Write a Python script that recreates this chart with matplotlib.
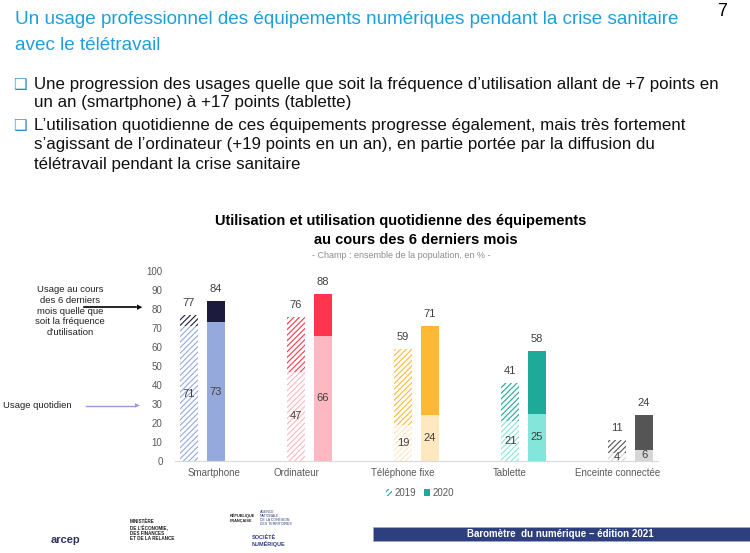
import matplotlib.pyplot as plt
from matplotlib.patches import Patch, Rectangle
from matplotlib.transforms import ScaledTranslation

categories = ['Smartphone', 'Ordinateur', 'Téléphone fixe', 'Tablette', 'Enceinte connectée']
total_2019 = [77, 76, 59, 41, 11]
total_2020 = [84, 88, 71, 58, 24]
daily_2019 = [71, 47, 19, 21, 4]
daily_2020 = [73, 66, 24, 25, 6]

light_cols = ['#95A9DC', '#FFB7C2', '#FFE7BF', '#84E6DA', '#D6D6D6']
dark_cols = ['#1C1B3D', '#FF3550', '#FFB833', '#1EAA98', '#555555']

plt.rcParams['font.family'] = ['Liberation Sans', 'DejaVu Sans']
plt.rcParams['hatch.linewidth'] = 0.8

fig = plt.figure(figsize=(7.5, 5.53), dpi=100)
W, H = 750, 553

def ftext(x, y, s, **kw):
    fig.text(x / W, 1 - y / H, s, **kw)

# header
ftext(15, 19, 'Un usage professionnel des équipements numériques pendant la crise sanitaire',
      fontsize=13.6, color='#1E9FDB', va='center')
ftext(15, 45, 'avec le télétravail', fontsize=13.6, color='#1E9FDB', va='center')
ftext(722, 12, '7', fontsize=13, va='center', ha='center')

bullets = [(84, 'Une progression des usages quelle que soit la fréquence d’utilisation allant de +7 points en', True),
           (103, 'un an (smartphone) à +17 points (tablette)', False),
           (125, 'L’utilisation quotidienne de ces équipements progresse également, mais très fortement', True),
           (145, 's’agissant de l’ordinateur (+19 points en un an), en partie portée par la diffusion du', False),
           (165, 'télétravail pendant la crise sanitaire', False)]
for y, s, bullet in bullets:
    ftext(34, y, s, fontsize=12.2, va='center', color='#111111')
    if bullet:
        ftext(13, y, '❑', fontsize=11, va='center', color='#2E8FD0', family='DejaVu Sans')

# chart title
ftext(401, 221, 'Utilisation et utilisation quotidienne des équipements', fontsize=10.5,
      fontweight='bold', ha='center', va='center')
ftext(416, 240, 'au cours des 6 derniers mois', fontsize=10.5, fontweight='bold', ha='center', va='center')
ftext(401, 255, '- Champ : ensemble de la population, en % -', fontsize=6.5, color='#8C8C8C',
      ha='center', va='center')

ax = fig.add_axes([175 / W, 1 - 461 / H, 483 / W, 190 / H])
x = list(range(len(categories)))
x20 = [i + 0.25 for i in x]
bw = 0.17

for i in x:
    ax.bar(x[i], daily_2019[i], bw, facecolor='white', edgecolor=light_cols[i], hatch='//////', lw=0)
    ax.bar(x[i], total_2019[i] - daily_2019[i], bw, bottom=daily_2019[i], facecolor='white',
           edgecolor=dark_cols[i], hatch='//////', lw=0)
    ax.bar(x20[i], daily_2020[i], bw, color=light_cols[i], lw=0)
    ax.bar(x20[i], total_2020[i] - daily_2020[i], bw, bottom=daily_2020[i], color=dark_cols[i], lw=0)
    for xx, tot, d in [(x[i], total_2019[i], daily_2019[i]), (x20[i], total_2020[i], daily_2020[i])]:
        ax.annotate(str(tot), (xx, tot), xytext=(0, 5), textcoords='offset points', ha='center',
                    va='bottom', fontsize=8, color='#404040')
        ax.text(xx, d / 2, str(d), ha='center', va='center', fontsize=8, color='#404040')

ax.set_xlim(-0.13, 4.38)
ax.set_ylim(0, 100)
ax.set_yticks(range(0, 101, 10))
ax.set_xticks(x)
ax.set_xticklabels(categories)
ax.tick_params(length=0, labelsize=7, labelcolor='#595959')
ax.tick_params(axis='y', pad=9)
ax.tick_params(axis='x', pad=5)
# first category label sits a bit to the right in the original
lab0 = ax.get_xticklabels()[0]
lab0.set_transform(lab0.get_transform() + ScaledTranslation(0.25, 0, fig.dpi_scale_trans))
for s in ['top', 'right', 'left']:
    ax.spines[s].set_visible(False)
ax.spines['bottom'].set_color('#D9D9D9')

# side annotations
ftext(70, 311, 'Usage au cours\ndes 6 derniers\nmois quelle que\nsoit la fréquence\nd’utilisation',
      fontsize=6.8, ha='center', va='center', linespacing=1.25, color='#222222')
fig.add_artist(plt.Line2D([84 / W, 136 / W], [1 - 307 / H] * 2, color='black', lw=1.2))
ftext(140, 307, '▶', fontsize=5, color='black', ha='center', va='center', family='DejaVu Sans')
ftext(3, 406, 'Usage quotidien', fontsize=6.8, va='center', color='#222222')
fig.add_artist(plt.Line2D([86 / W, 134 / W], [1 - 406 / H] * 2, color='#9A9AE0', lw=1.0))
ftext(137, 406, '▶', fontsize=4.5, color='#9A9AE0', ha='center', va='center', family='DejaVu Sans')

handles = [Patch(facecolor='white', edgecolor=dark_cols[3], hatch='//////', lw=0, label='2019'),
           Patch(facecolor=dark_cols[3], lw=0, label='2020')]
fig.legend(handles=handles, loc='center', bbox_to_anchor=(420 / W, 1 - 493 / H), ncol=2,
           frameon=False, fontsize=7, handlelength=0.6, handleheight=0.6, handletextpad=0.3,
           columnspacing=0.8, labelcolor='#595959')

# footer
ftext(65, 540, 'arcep', fontsize=8, fontweight='bold', color='#333366', ha='center', va='center')
ftext(130, 530, 'MINISTÈRE\nDE L’ÉCONOMIE,\nDES FINANCES\nET DE LA RELANCE', fontsize=3.3,
      fontweight='bold', va='center', linespacing=1.1, color='#222222')
ftext(230, 518, 'RÉPUBLIQUE\nFRANÇAISE', fontsize=2.8, fontweight='bold', va='center', color='#222222')
ftext(260, 518, 'AGENCE\nNATIONALE\nDE LA COHÉSION\nDES TERRITOIRES', fontsize=2.5, va='center',
      color='#2E3F7F', linespacing=1.0)
ftext(252, 541, 'SOCIÉTÉ\nNUMÉRIQUE', fontsize=4, fontweight='bold', va='center', color='#2E3F7F')
fig.add_artist(Rectangle((373 / W, 1 - 541 / H), 377 / W, 14 / H, facecolor='#2E3F7F',
                         edgecolor='#9FA8C8', lw=0.6))
ftext(560, 534, 'Baromètre  du numérique – édition 2021', fontsize=7, fontweight='bold',
      color='white', ha='center', va='center')

fig.savefig('out.png', dpi=100)
